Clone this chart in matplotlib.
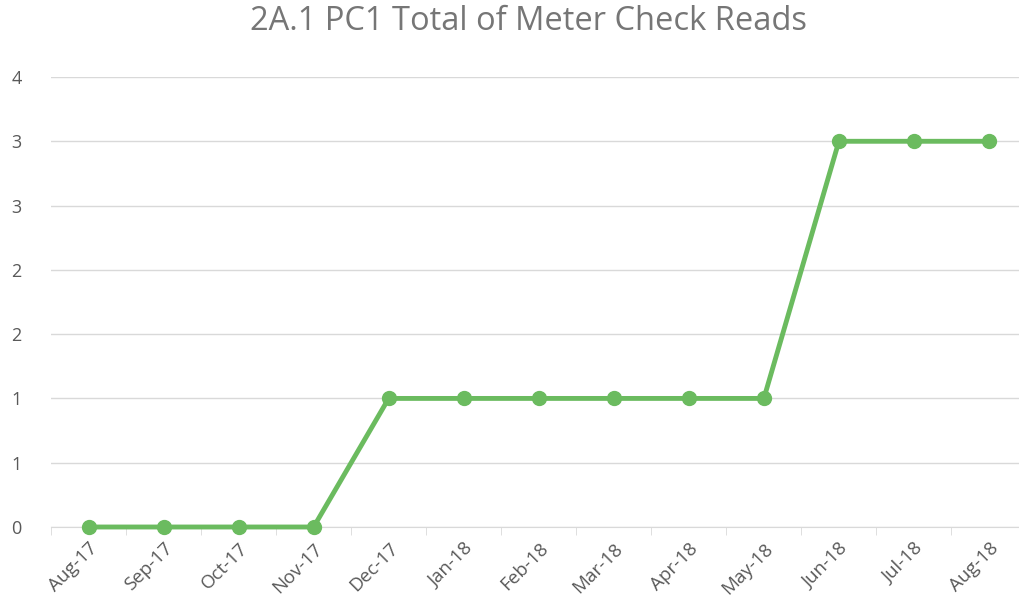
import matplotlib.pyplot as plt
import numpy as np

months = ['Aug-17', 'Sep-17', 'Oct-17', 'Nov-17', 'Dec-17', 'Jan-18', 'Feb-18',
          'Mar-18', 'Apr-18', 'May-18', 'Jun-18', 'Jul-18', 'Aug-18']
reads = [0, 0, 0, 0, 1, 1, 1, 1, 1, 1, 3, 3, 3]
yticks = [0, 0.5, 1, 1.5, 2, 2.5, 3, 3.5]
ylabels = ['0', '1', '1', '2', '2', '3', '3', '4']

plt.rcParams['font.family'] = ['Open Sans', 'DejaVu Sans']
grey = '#595959'

fig = plt.figure(figsize=(10.2, 6.11), dpi=100)
ax = fig.add_axes([51/1020, (611-527)/611, 1 - 51/1020, 450/611])

x = np.arange(len(months))
ax.plot(x, reads, color='#6BBB5F', linewidth=3.5, marker='o', markersize=10,
        solid_capstyle='round', zorder=3, clip_on=False)

ax.set_xlim(-0.5, (1020 - 89) / 75)
ax.set_ylim(0, 3.5)
ax.set_yticks(yticks)
ax.set_yticklabels(ylabels, color=grey, fontsize=13)
ax.set_xticks(x)
ax.set_xticklabels(months, rotation=45, ha='right', rotation_mode='anchor',
                   color=grey, fontsize=13.5)
ax.set_xticks(np.arange(len(months)) - 0.5, minor=True)
ax.tick_params(axis='x', which='major', length=0, pad=9)
ax.tick_params(axis='x', which='minor', length=6, color='#D9D9D9')
ax.tick_params(axis='y', length=0, pad=21)

ax.grid(axis='y', color='#D9D9D9', linewidth=1)
ax.set_axisbelow(True)
for s in ['top', 'right', 'left']:
    ax.spines[s].set_visible(False)
ax.spines['bottom'].set_color('#D9D9D9')

fig.text(528/1020, 1 - 22/611, '2A.1 PC1 Total of Meter Check Reads',
         ha='center', va='center', fontsize=23.5, color='#767676')

plt.savefig('out.png', dpi=100)
